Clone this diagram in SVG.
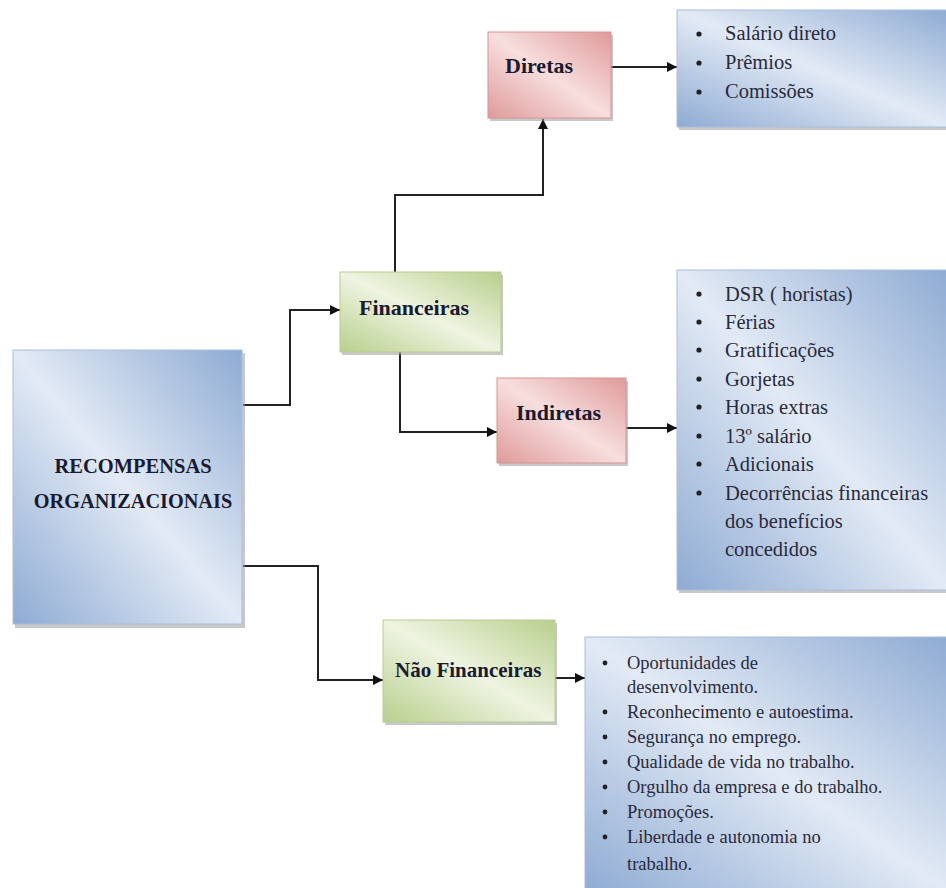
<svg xmlns="http://www.w3.org/2000/svg" width="946" height="888" viewBox="0 0 946 888">
<defs>
  <linearGradient id="gBlue" x1="1" y1="0" x2="0" y2="1">
    <stop offset="0" stop-color="#8eabd3"/>
    <stop offset="0.5" stop-color="#e2eaf5"/>
    <stop offset="1" stop-color="#8eabd3"/>
  </linearGradient>
  <linearGradient id="gRed" x1="1" y1="0" x2="0" y2="1">
    <stop offset="0" stop-color="#e09a9a"/>
    <stop offset="0.5" stop-color="#f7dede"/>
    <stop offset="1" stop-color="#e09a9a"/>
  </linearGradient>
  <linearGradient id="gGreen" x1="1" y1="0" x2="0" y2="1">
    <stop offset="0" stop-color="#b8cf8c"/>
    <stop offset="0.5" stop-color="#eef4e1"/>
    <stop offset="1" stop-color="#b8cf8c"/>
  </linearGradient>
  <marker id="arr" viewBox="0 0 10 10" refX="10" refY="5" markerWidth="10" markerHeight="10" markerUnits="userSpaceOnUse" orient="auto">
    <path d="M0,0 L10,5 L0,10 z" fill="#111"/>
  </marker>
</defs>
<style>
  .shadow { fill: #9a9a9a; opacity: 0.55; }
  .blue { fill: url(#gBlue); stroke: #a9bedc; stroke-width: 1; }
  .red { fill: url(#gRed); stroke: #d99494; stroke-width: 1; }
  .green { fill: url(#gGreen); stroke: #b9cc91; stroke-width: 1; }
  .title { font-family: "Liberation Serif", "Times New Roman", serif; font-weight: bold; fill: #1a1a30; }
  .item { font-family: "Liberation Serif", "Times New Roman", serif; font-size: 20.5px; fill: #2a2a3a; }
  .item2 { font-family: "Liberation Serif", "Times New Roman", serif; font-size: 18.5px; fill: #2a2a3a; }
  .conn { fill: none; stroke: #222; stroke-width: 2; }
</style>

<g id="connectors">
  <path class="conn" d="M243,405 H290 V310 H340" marker-end="url(#arr)"/>
  <path class="conn" d="M243,566 H318 V680 H383" marker-end="url(#arr)"/>
  <path class="conn" d="M395,272 V195 H543 V119" marker-end="url(#arr)"/>
  <path class="conn" d="M400,350 V432 H497" marker-end="url(#arr)"/>
  <path class="conn" d="M611,67 H677" marker-end="url(#arr)"/>
  <path class="conn" d="M626,428 H677" marker-end="url(#arr)"/>
  <path class="conn" d="M555,678 H585" marker-end="url(#arr)"/>
</g>

<g id="recompensas">
  <rect class="shadow" x="15" y="353" width="230" height="275"/>
  <rect class="blue" x="13" y="350" width="229" height="274"/>
  <text class="title" font-size="20.5" x="133" y="473" text-anchor="middle">RECOMPENSAS</text>
  <text class="title" font-size="20.3" x="133" y="508" text-anchor="middle">ORGANIZACIONAIS</text>
</g>

<g id="diretas">
  <rect class="shadow" x="490" y="35" width="123" height="86"/>
  <rect class="red" x="488" y="32" width="123" height="86"/>
  <text class="title" font-size="22" x="505" y="73">Diretas</text>
</g>

<g id="financeiras">
  <rect class="shadow" x="342" y="275" width="161" height="80"/>
  <rect class="green" x="340" y="272" width="161" height="80"/>
  <text class="title" font-size="22" x="359" y="315">Financeiras</text>
</g>

<g id="indiretas">
  <rect class="shadow" x="499" y="381" width="129" height="85"/>
  <rect class="red" x="497" y="378" width="129" height="85"/>
  <text class="title" font-size="22" x="516" y="420">Indiretas</text>
</g>

<g id="nao-financeiras">
  <rect class="shadow" x="385" y="623" width="172" height="102"/>
  <rect class="green" x="383" y="620" width="172" height="102"/>
  <text class="title" font-size="21" x="395" y="677">Não Financeiras</text>
</g>

<g id="lista-diretas">
  <rect class="shadow" x="679" y="13" width="270" height="117"/>
  <rect class="blue" x="677" y="10" width="272" height="117"/>
  <g class="item">
    <circle cx="699" cy="34" r="2.6" fill="#222"/>
    <text x="725" y="40">Salário direto</text>
    <circle cx="699" cy="63" r="2.6" fill="#222"/>
    <text x="725" y="69">Prêmios</text>
    <circle cx="699" cy="92" r="2.6" fill="#222"/>
    <text x="725" y="98">Comissões</text>
  </g>
</g>

<g id="lista-indiretas">
  <rect class="shadow" x="679" y="273" width="270" height="320"/>
  <rect class="blue" x="677" y="270" width="272" height="320"/>
  <g class="item">
    <circle cx="699" cy="294" r="2.6" fill="#222"/>
    <text x="725" y="301">DSR ( horistas)</text>
    <circle cx="699" cy="322" r="2.6" fill="#222"/>
    <text x="725" y="329">Férias</text>
    <circle cx="699" cy="350" r="2.6" fill="#222"/>
    <text x="725" y="357">Gratificações</text>
    <circle cx="699" cy="379" r="2.6" fill="#222"/>
    <text x="725" y="386">Gorjetas</text>
    <circle cx="699" cy="407" r="2.6" fill="#222"/>
    <text x="725" y="414">Horas extras</text>
    <circle cx="699" cy="436" r="2.6" fill="#222"/>
    <text x="725" y="443">13º salário</text>
    <circle cx="699" cy="464" r="2.6" fill="#222"/>
    <text x="725" y="471">Adicionais</text>
    <circle cx="699" cy="493" r="2.6" fill="#222"/>
    <text x="725" y="500">Decorrências financeiras</text>
    <text x="725" y="528">dos benefícios</text>
    <text x="725" y="556">concedidos</text>
  </g>
</g>

<g id="lista-nao-financeiras">
  <rect class="shadow" x="587" y="640" width="362" height="252"/>
  <rect class="blue" x="585" y="637" width="364" height="255"/>
  <g class="item2">
    <circle cx="605" cy="663" r="2.4" fill="#222"/>
    <text x="627" y="669">Oportunidades de</text>
    <text x="627" y="693">desenvolvimento.</text>
    <circle cx="605" cy="712" r="2.4" fill="#222"/>
    <text x="627" y="718">Reconhecimento e autoestima.</text>
    <circle cx="605" cy="737" r="2.4" fill="#222"/>
    <text x="627" y="743">Segurança no emprego.</text>
    <circle cx="605" cy="762" r="2.4" fill="#222"/>
    <text x="627" y="768">Qualidade de vida no trabalho.</text>
    <circle cx="605" cy="787" r="2.4" fill="#222"/>
    <text x="627" y="793">Orgulho da empresa e do trabalho.</text>
    <circle cx="605" cy="812" r="2.4" fill="#222"/>
    <text x="627" y="818">Promoções.</text>
    <circle cx="605" cy="837" r="2.4" fill="#222"/>
    <text x="627" y="843">Liberdade e autonomia no</text>
    <text x="627" y="870">trabalho.</text>
  </g>
</g>
</svg>
